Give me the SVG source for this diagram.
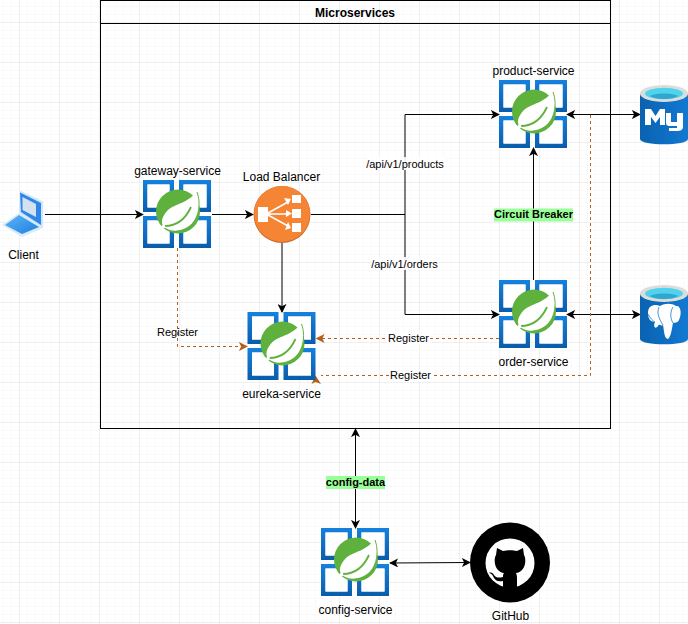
<svg xmlns="http://www.w3.org/2000/svg" width="688" height="624" viewBox="0 0 688 624">
<style>
text{font-family:"Liberation Sans",Arial,sans-serif;font-size:12px;fill:#000;text-anchor:middle}
.s{font-size:11px}
.b{font-weight:700;font-size:11px}
.c{fill:none;stroke:#000;stroke-width:1}
.d{fill:none;stroke:#b4601a;stroke-width:1;stroke-dasharray:3 3}
</style>
<defs>
<pattern id="minor" width="8" height="8" patternUnits="userSpaceOnUse" x="4" y="7"><path d="M8 0V8M0 8H8" fill="none" stroke="#f5f5f5" stroke-width="1"/></pattern>
<pattern id="major" width="40" height="40" patternUnits="userSpaceOnUse" x="-20" y="-17"><path d="M40 0V40M0 40H40" fill="none" stroke="#e6e6e6" stroke-width="1"/></pattern>
<marker id="a" viewBox="0 0 10 10" refX="9" refY="5" markerWidth="9" markerHeight="9" markerUnits="userSpaceOnUse" orient="auto-start-reverse"><path d="M0 0L10 5L0 10L2.500 5Z" fill="#000"/></marker>
<marker id="o" viewBox="0 0 10 10" refX="9" refY="5" markerWidth="9" markerHeight="9" markerUnits="userSpaceOnUse" orient="auto"><path d="M0 0L10 5L0 10L2.500 5Z" fill="#b4601a"/></marker>
<linearGradient id="blue" x1="0" y1="0" x2="0" y2="1"><stop offset="0" stop-color="#1581de"/><stop offset="1" stop-color="#0a5cab"/></linearGradient>
<linearGradient id="cyl" x1="0" y1="0" x2="1" y2="0"><stop offset="0" stop-color="#0a62b0"/><stop offset="1" stop-color="#1279d2"/></linearGradient>
<linearGradient id="lap" x1="0" y1="0" x2="1" y2="1"><stop offset="0" stop-color="#5db4f5"/><stop offset="1" stop-color="#1f7fe0"/></linearGradient>
<g id="spring">
<path d="M0 0H31V32H0ZM4.500 4.500V27.500H26.500V4.500Z" fill="url(#blue)" fill-rule="evenodd"/>
<path d="M36 0H68V32H36ZM40.500 4.500V27.500H63.500V4.500Z" fill="url(#blue)" fill-rule="evenodd"/>
<path d="M0 36H31V68H0ZM4.500 40.500V63.500H26.500V40.500Z" fill="url(#blue)" fill-rule="evenodd"/>
<path d="M36 36H68V68H36ZM40.500 40.500V63.500H63.500V40.500Z" fill="url(#blue)" fill-rule="evenodd"/>
<path d="M4.500 4.500H26.500V27.500H4.500ZM40.500 4.500H63.500V27.500H40.500ZM4.500 40.500H26.500V63.500H4.500ZM40.500 40.500H63.500V63.500H40.500Z" fill="#fff"/>
<circle cx="35" cy="31.500" r="22" fill="#5fb13e"/>
<path d="M53.500 10.500C58 24 57 38 46 46C38 52 27 52 21 47C17 43 19 36 25 30C31 24 47 23 53.500 10.500Z" fill="#fff"/>
<path d="M54 12C58 23 57 39 44 49" fill="none" stroke="#5fb13e" stroke-width="1"/>
<path d="M22 46C33 46 42 40 48 27" fill="none" stroke="#5fb13e" stroke-width="1.800"/>
<circle cx="20.500" cy="46.500" r="1.800" fill="#fff"/>
</g>
<g id="cylinder">
<path d="M0 9C0 2 48 2 48 9V53C48 60 0 60 0 53Z" transform="translate(0 2)" fill="url(#cyl)"/>
<ellipse cx="24" cy="9.500" rx="24" ry="8.500" fill="#dcdcdc"/>
<ellipse cx="24" cy="9.500" rx="19" ry="5.800" fill="#50d4ee"/>
<path d="M10 12C15 8.500 33 8.500 38 12C33 16 15 16 10 12Z" fill="#2fa7cf"/>
</g>
</defs>
<rect width="688" height="624" fill="#fff"/>
<rect width="688" height="624" fill="url(#minor)"/>
<rect width="688" height="624" fill="url(#major)"/>

<g id="microservices">
<rect x="100.500" y="0.500" width="510" height="428" fill="none" stroke="#000" stroke-width="1"/>
<path d="M100.500 23.500H610.500" stroke="#000" stroke-width="1"/>
<text x="355" y="17" class="b" style="font-size:12px">Microservices</text>
</g>

<g id="connectors">
<path class="c" d="M45 214.500H143" marker-end="url(#a)"/>
<path class="c" d="M212 214.500H253" marker-end="url(#a)"/>
<path class="c" d="M311 214.500H405"/>
<path class="c" d="M405 214.500V114.500H499" marker-end="url(#a)"/>
<path class="c" d="M405 214.500V314.500H499" marker-end="url(#a)"/>
<path class="c" d="M282 243V312" marker-end="url(#a)"/>
<path class="c" d="M533.500 280V148" marker-end="url(#a)"/>
<path class="c" d="M567 114.500H640" marker-start="url(#a)" marker-end="url(#a)"/>
<path class="c" d="M567 314.500H640" marker-start="url(#a)" marker-end="url(#a)"/>
<path class="c" d="M355.500 528V429" marker-start="url(#a)" marker-end="url(#a)"/>
<path class="c" d="M390 563L470 562.500" marker-start="url(#a)" marker-end="url(#a)"/>
<path class="d" d="M177.500 248V346.500H247" marker-end="url(#o)"/>
<path class="d" d="M499 338.500H316.500" marker-end="url(#o)"/>
<path class="d" d="M590.500 115V375.500H321"/>
<path d="M315.500 375.500L321 384L315.500 382L311.500 384Z" fill="#b4601a"/>
</g>

<g id="client">
<path d="M2 225L19 213L43 228L22 237Z" fill="#d6ebfb"/>
<path d="M5 225L19 215L39 227L22 234Z" fill="url(#lap)"/>
<path d="M20 190.500L43 201.500V228L19 213Z" fill="#cfe6fa"/>
<path d="M20 192.500L41 203V225L21 212Z" fill="#2f86ea"/>
<path d="M22.500 197L36 204V217L22.500 210Z" fill="#d4e2ee"/>
<text x="23.500" y="259">Client</text>
</g>
<g id="gateway-service">
<use href="#spring" x="143" y="180"/>
<text x="177.500" y="175">gateway-service</text>
</g>
<g id="load-balancer">
<circle cx="282" cy="214.500" r="28.500" fill="#c8682c"/>
<circle cx="282" cy="214" r="28" fill="#f58534"/>
<path d="M258 207H268V222H258ZM292 195H301V203H292ZM292 209H301V218H292ZM292 223H301V232H292Z" fill="#fff"/>
<path d="M268 213L288 202M268 214H288M268 215L288 226" stroke="#fff" stroke-width="1.500" fill="none"/>
<path d="M284 198L291 199L288 205ZM286 210L292 213.500L286 217ZM285 230L291 228L288 222Z" fill="#fff"/>
<text x="281.500" y="181">Load Balancer</text>
</g>
<g id="eureka-service">
<use href="#spring" x="247.500" y="312"/>
<text x="281.500" y="398">eureka-service</text>
</g>
<g id="product-service">
<use href="#spring" x="499" y="80"/>
<text x="533.500" y="75">product-service</text>
</g>
<g id="order-service">
<use href="#spring" x="499" y="280"/>
<text x="533.500" y="366">order-service</text>
</g>
<g id="config-service">
<use href="#spring" x="321" y="528"/>
<text x="355.500" y="614">config-service</text>
</g>
<g id="mysql">
<use href="#cylinder" x="640" y="84"/>
<path d="M645 125V109H651L655.500 116L660 109H665V125H660V117L655.500 123L651 117V125ZM666 113H671V122H677V113H683V127C683 130 680 131 677 131H669V128H677V126H670C667 126 666 125 666 122Z" fill="#fff"/>
</g>
<g id="postgresql">
<use href="#cylinder" x="640" y="284"/>
<path d="M648 313C648 305 655 304 660 306C665 303 672 303 676 306C681 305 682 314 679 320C677 324 675 322 673 323C672 328 671 337 668 339C664 339 664 329 663 325C661 327 660 323 658 326C655 330 653 326 655 322C650 322 648 318 648 313Z" fill="#fff"/>
<path d="M659 307C656 314 660 320 663 325M673 307C670 312 670 318 673 323M648 314C650 318 653 321 655 322" fill="none" stroke="#1279d2" stroke-width="0.800"/>
</g>
<g id="github">
<circle cx="510" cy="562.500" r="40" fill="#000"/>
<circle cx="510" cy="563" r="24.500" fill="#fff"/>
<path d="M497 548L503 551C507 550 513 550 517 551L523 548L524 555C526 558 526 566 522 570C520 572 518 573 516 573C517 575 517 577 517 580V596H503V581C499 582 495 581 493 576C492 574 490 573 489 573C491 572 493 573 494 575C496 578 499 578 503 577C503 575 503 574 504 573C502 573 500 572 498 570C494 566 494 558 496 555Z" fill="#000"/>
<text x="510.500" y="620">GitHub</text>
</g>

<g id="labels">
<rect x="367" y="157" width="78" height="13" fill="#fff" fill-opacity="0.900"/>
<text class="s" x="405" y="168">/api/v1/products</text>
<rect x="371" y="257" width="68" height="13" fill="#fff" fill-opacity="0.900"/>
<text class="s" x="404.500" y="268">/api/v1/orders</text>
<rect x="494" y="208.500" width="79" height="13" fill="#99ff99"/>
<text class="b" x="533.500" y="218">Circuit Breaker</text>
<rect x="326" y="476" width="59" height="13" fill="#99ff99"/>
<text class="b" x="355.500" y="486">config-data</text>
<text class="s" x="177.500" y="336">Register</text>
<rect x="387" y="332" width="43" height="13" fill="#fff"/>
<text class="s" x="408.500" y="342">Register</text>
<rect x="389" y="369" width="43" height="13" fill="#fff"/>
<text class="s" x="410.500" y="379">Register</text>
</g>
</svg>
